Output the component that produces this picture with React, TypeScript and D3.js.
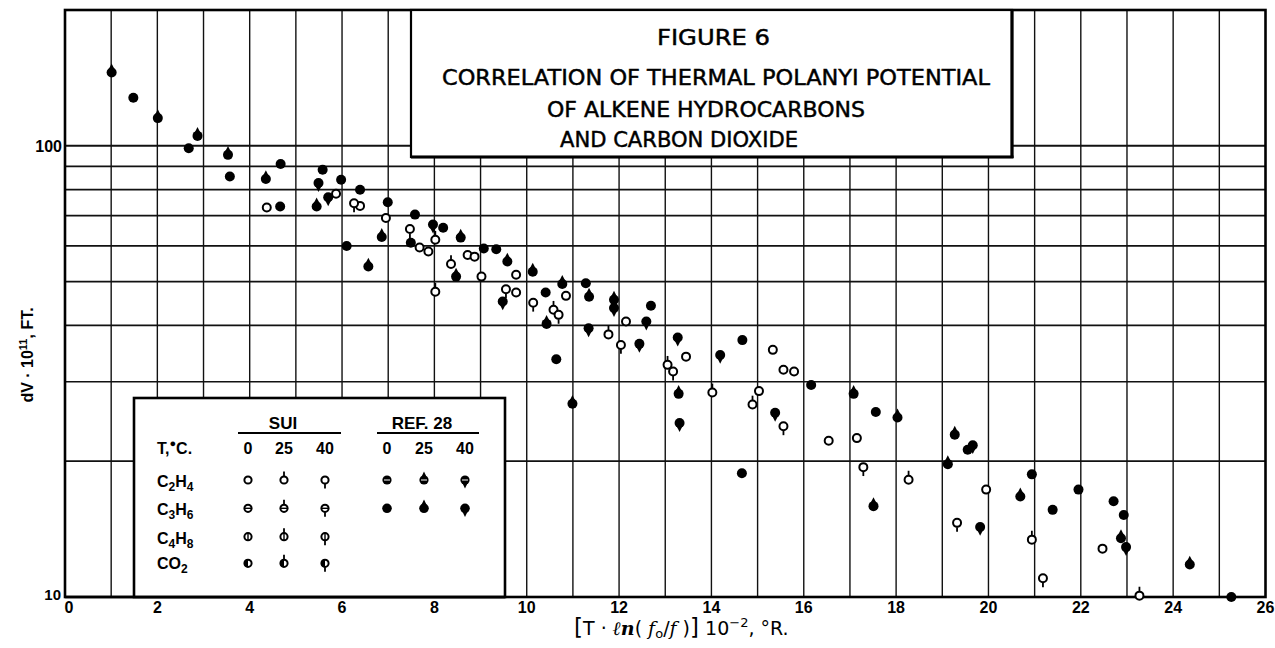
import React, { useEffect } from "react";
import * as d3 from "d3";

// ---- data (x = T·ln(fo/f)·10^-2 °R, y = dV·10^11 ft) ----
const xTicks = [0, 2, 4, 6, 8, 10, 12, 14, 16, 18, 20, 22, 24, 26];
const yTickLabels = [10, 100];
const yGridValues = [20, 30, 40, 50, 60, 70, 80, 90, 100];

// SUI, C2H4
const sui0: [number, number][] = [
  [4.37, 73.0], [5.87, 78.3], [6.39, 73.6], [6.95, 69.2], [7.68, 59.5], [7.87, 58.3],
  [8.72, 57.3], [8.87, 56.8], [9.02, 51.3], [9.77, 51.8], [9.77, 47.3], [10.85, 46.5],
  [12.15, 40.8], [13.45, 34.1], [15.03, 28.6], [15.33, 35.3], [15.56, 31.9], [15.79, 31.6],
  [16.54, 22.2], [17.15, 22.5], [19.95, 17.3], [22.47, 12.8],
];
const sui25: [number, number][] = [
  [8.02, 61.9], [8.36, 54.7], [8.02, 47.5], [10.58, 43.3], [11.77, 38.2], [13.05, 32.7],
  [14.02, 28.4], [14.89, 26.7], [18.27, 18.2], [20.94, 13.4], [23.27, 10.07],
];
const sui40: [number, number][] = [
  [6.26, 74.6], [7.47, 65.4], [9.55, 48.1], [10.14, 44.9], [10.69, 42.2], [12.04, 36.2],
  [13.17, 31.6], [15.56, 23.9], [17.29, 19.4], [19.32, 14.6], [21.18, 11.0],
];
// REF. 28, C3H6
const ref0: [number, number][] = [
  [1.48, 127.8], [2.68, 98.8], [3.57, 85.5], [4.66, 73.4], [4.67, 91.1], [5.58, 88.5],
  [5.98, 84.1], [6.39, 79.9], [6.99, 75.0], [7.58, 70.4], [8.19, 65.8], [7.49, 61.0],
  [6.10, 60.0], [9.07, 59.2], [9.34, 59.0], [10.41, 47.3], [10.64, 33.65], [11.28, 49.6],
  [12.69, 44.2], [14.67, 37.1], [14.66, 18.8], [16.16, 29.5], [17.56, 25.7], [19.55, 21.2],
  [20.94, 18.7], [21.39, 15.6], [21.95, 17.3], [22.71, 16.3], [22.93, 15.2], [25.26, 10.0],
];
const ref25: [number, number][] = [
  [1.01, 145.4], [2.01, 115.2], [2.87, 105.2], [3.53, 95.5], [4.35, 84.4], [5.45, 73.4],
  [6.86, 62.8], [6.57, 54.0], [8.57, 62.6], [8.47, 51.3], [9.58, 55.4], [10.13, 52.6],
  [10.77, 49.4], [10.43, 40.3], [11.35, 46.3], [11.89, 45.6], [13.29, 28.2], [10.99, 26.8],
  [17.08, 28.2], [17.51, 15.9], [18.03, 25.0], [19.27, 22.9], [19.12, 19.7], [20.69, 16.7],
  [22.87, 13.5], [24.36, 11.8],
];
const ref40: [number, number][] = [
  [5.49, 82.7], [5.70, 76.9], [7.97, 66.9], [9.48, 45.2], [11.89, 43.7], [12.59, 40.8],
  [11.34, 39.4], [12.44, 36.4], [13.27, 37.6], [13.31, 24.3], [14.19, 34.4], [15.38, 25.6],
  [19.66, 21.7], [19.82, 14.3], [22.98, 12.9],
];

const titleLines = [
  "FIGURE  6",
  "CORRELATION  OF  THERMAL  POLANYI  POTENTIAL",
  "OF  ALKENE  HYDROCARBONS",
  "AND  CARBON  DIOXIDE",
];
const legendTemps = ["0", "25", "40"];
const legendRows = [
  { c: "C", s1: "2", h: "H", s2: "4" },
  { c: "C", s1: "3", h: "H", s2: "6" },
  { c: "C", s1: "4", h: "H", s2: "8" },
  { c: "CO", s1: "2", h: "", s2: "" },
];

type Fill = "open" | "filled" | "half" | "hatch";
type Tick = "none" | "up" | "down";
type Inner = "" | "h" | "v";

function Marker({ cx, cy, fill, tick, inner = "", r = 4.4 }: { cx: number; cy: number; fill: Fill; tick: Tick; inner?: Inner; r?: number }) {
  const parts: React.ReactNode[] = [];
  const tl = 4.5;
  if (fill === "filled" || fill === "hatch") {
    if (tick !== "none") {
      const s = tick === "up" ? -1 : 1;
      parts.push(
        <path key="t" d={`M${cx - r * 0.72},${cy + s * r * 0.6} L${cx},${cy + s * (r + tl)} L${cx + r * 0.72},${cy + s * r * 0.6} Z`} fill="#000" />
      );
    }
    parts.push(<circle key="c" cx={cx} cy={cy} r={r + 0.6} fill="#000" />);
    if (fill === "hatch") parts.push(<line key="hl" x1={cx - r + 1} x2={cx + r - 1} y1={cy} y2={cy} stroke="#fff" strokeWidth={1} />);
  } else {
    parts.push(<circle key="c" cx={cx} cy={cy} r={r - 0.4} fill="#fff" stroke="#000" strokeWidth={2} />);
    if (fill === "half") parts.push(<path key="hf" d={`M${cx},${cy - r} A${r},${r} 0 0 0 ${cx},${cy + r} Z`} fill="#000" />);
    if (inner === "h") parts.push(<line key="ih" x1={cx - r} x2={cx + r} y1={cy} y2={cy} stroke="#000" strokeWidth={1.4} />);
    if (inner === "v") parts.push(<line key="iv" x1={cx} x2={cx} y1={cy - r} y2={cy + r} stroke="#000" strokeWidth={1.4} />);
    if (tick === "up") parts.push(<line key="t" x1={cx} x2={cx} y1={cy - r} y2={cy - r - tl} stroke="#000" strokeWidth={1.8} />);
    if (tick === "down") parts.push(<line key="t" x1={cx} x2={cx} y1={cy + r} y2={cy + r + tl} stroke="#000" strokeWidth={1.8} />);
  }
  return <g>{parts}</g>;
}

export default function App() {
  useEffect(() => {
    document.body.style.margin = "0";
  }, []);
  const W = 1275, H = 648;
  const L = 65, R = 1265.5, T = 10, B = 597;
  const x = d3.scaleLinear().domain([0, 26]).range([L, R]);
  const y = d3.scaleLog().domain([10, 200]).range([B, T]);
  const vGrid = d3.range(1, 26);

  const series: { data: [number, number][]; fill: Fill; tick: Tick }[] = [
    { data: sui0, fill: "open", tick: "none" },
    { data: sui25, fill: "open", tick: "up" },
    { data: sui40, fill: "open", tick: "down" },
    { data: ref0, fill: "filled", tick: "none" },
    { data: ref25, fill: "filled", tick: "up" },
    { data: ref40, fill: "filled", tick: "down" },
  ];

  const titleX = [[657, 113], [442, 548], [547, 318], [560, 238]];
  const titleY = [45, 85, 116.5, 146.5];

  const legCols = [248, 284, 325, 387, 424, 465];
  const legRowsY = [480, 508.3, 536.7, 563.3];
  const legRowsBase = [487, 515, 543.5, 568.5];
  const suiInner: Inner[] = ["", "h", "v", ""];
  const ticks: Tick[] = ["none", "up", "down"];

  const font = "'Liberation Sans', Arial, sans-serif";

  return (
    <svg width={W} height={H} style={{ position: "absolute", left: 0, top: 0, background: "#fff" }} fontFamily={font}>
      <rect x={0} y={0} width={W} height={H} fill="#fff" />
      {/* grid */}
      {vGrid.map((v) => (
        <line key={"v" + v} x1={x(v)} x2={x(v)} y1={T} y2={B} stroke="#111" strokeWidth={1.4} />
      ))}
      {yGridValues.map((v) => (
        <line key={"h" + v} x1={L} x2={R} y1={y(v)} y2={y(v)} stroke="#111" strokeWidth={v === 100 ? 2 : 1.7} />
      ))}
      <rect x={L} y={T} width={R - L} height={B - T} fill="none" stroke="#000" strokeWidth={2.6} />

      {/* title box */}
      <rect x={411} y={T} width={601} height={147} fill="#fff" stroke="#000" strokeWidth={2.2} />
      <line x1={1012} x2={1012} y1={T} y2={158} stroke="#000" strokeWidth={3.2} />
      <line x1={411} x2={1013.5} y1={157} y2={157} stroke="#000" strokeWidth={3.2} />
      {titleLines.map((t, i) => (
        <text key={t} x={titleX[i][0]} y={titleY[i]} fontFamily="'DejaVu Sans', sans-serif" fontSize={20.5}
          textLength={titleX[i][1]} lengthAdjust="spacingAndGlyphs" fill="#000" stroke="#000" strokeWidth={0.45}>
          {t}
        </text>
      ))}

      {/* data */}
      {series.map((s, si) =>
        s.data.map((d, i) => <Marker key={si + "-" + i} cx={x(d[0])} cy={y(d[1])} fill={s.fill} tick={s.tick} />)
      )}

      {/* legend */}
      <rect x={134} y={398} width={371} height={B - 398} fill="#fff" stroke="#000" strokeWidth={2.6} />
      <line x1={L} x2={505} y1={B} y2={B} stroke="#000" strokeWidth={2.6} />
      <text x={283} y={429} fontSize={17} fontWeight="bold" textAnchor="middle">SUI</text>
      <line x1={238} x2={341} y1={433} y2={433} stroke="#000" strokeWidth={2.2} />
      <text x={422} y={429} fontSize={17} fontWeight="bold" textAnchor="middle">REF. 28</text>
      <line x1={377} x2={479} y1={433} y2={433} stroke="#000" strokeWidth={2.2} />
      <text x={157} y={454} fontSize={16} fontWeight="bold">
        T,<tspan dy={-7} fontSize={11}>●</tspan><tspan dy={7}>C.</tspan>
      </text>
      {legCols.map((cx, i) => (
        <text key={"lt" + i} x={cx} y={454} fontSize={16} fontWeight="bold" textAnchor="middle">{legendTemps[i % 3]}</text>
      ))}
      {legendRows.map((r, i) => (
        <text key={"lr" + i} x={157} y={legRowsBase[i]} fontSize={16} fontWeight="bold">
          {r.c}<tspan dy={4} fontSize={12}>{r.s1}</tspan>
          {r.h ? <tspan dy={-4}>{r.h}</tspan> : null}
          {r.s2 ? <tspan dy={4} fontSize={12}>{r.s2}</tspan> : null}
        </text>
      ))}
      {legRowsY.map((ry, ri) =>
        [0, 1, 2].map((ci) => (
          <Marker key={"ls" + ri + ci} cx={legCols[ci]} cy={ry} r={4}
            fill={ri === 3 ? "half" : "open"} inner={suiInner[ri]} tick={ticks[ci]} />
        ))
      )}
      {[0, 1, 2].map((ci) => (
        <Marker key={"lr0" + ci} cx={legCols[3 + ci]} cy={legRowsY[0]} r={4} fill="hatch" tick={ticks[ci]} />
      ))}
      {[0, 1, 2].map((ci) => (
        <Marker key={"lr1" + ci} cx={legCols[3 + ci]} cy={legRowsY[1]} r={4.2} fill="filled" tick={ticks[ci]} />
      ))}

      {/* axes labels */}
      {xTicks.map((v) => (
        <text key={"xt" + v} x={x(v) + (v === 0 ? 4 : 0)} y={613} fontSize={16} fontWeight="bold" textAnchor="middle">{v}</text>
      ))}
      <text x={62} y={152} fontSize={16} fontWeight="bold" textAnchor="end">{yTickLabels[1]}</text>
      <text x={61} y={600} fontSize={15} fontWeight="bold" textAnchor="end">{yTickLabels[0]}</text>

      <text transform="translate(33,355) rotate(-90)" fontSize={16} fontWeight="bold" textAnchor="middle">
        dV · 10<tspan dy={-6} fontSize={11}>11</tspan><tspan dy={6}>, FT.</tspan>
      </text>

      <text x={574} y={635} fontSize={19} fontFamily="'DejaVu Sans', sans-serif">
        <tspan fontSize={23}>[</tspan>
        <tspan>T · </tspan>
        <tspan fontStyle="italic" fontWeight="bold" fontFamily="'DejaVu Serif', serif">ℓn</tspan>
        <tspan>( </tspan>
        <tspan fontStyle="italic" fontFamily="'DejaVu Serif', serif">f</tspan>
        <tspan dy={3} fontSize={13}>o</tspan>
        <tspan dy={-3}>/</tspan>
        <tspan fontStyle="italic" fontFamily="'DejaVu Serif', serif">f</tspan>
        <tspan> )</tspan>
        <tspan fontSize={23}>]</tspan>
        <tspan> 10</tspan>
        <tspan dy={-8} fontSize={13}>−2</tspan>
        <tspan dy={8}>, °R.</tspan>
      </text>
    </svg>
  );
}
